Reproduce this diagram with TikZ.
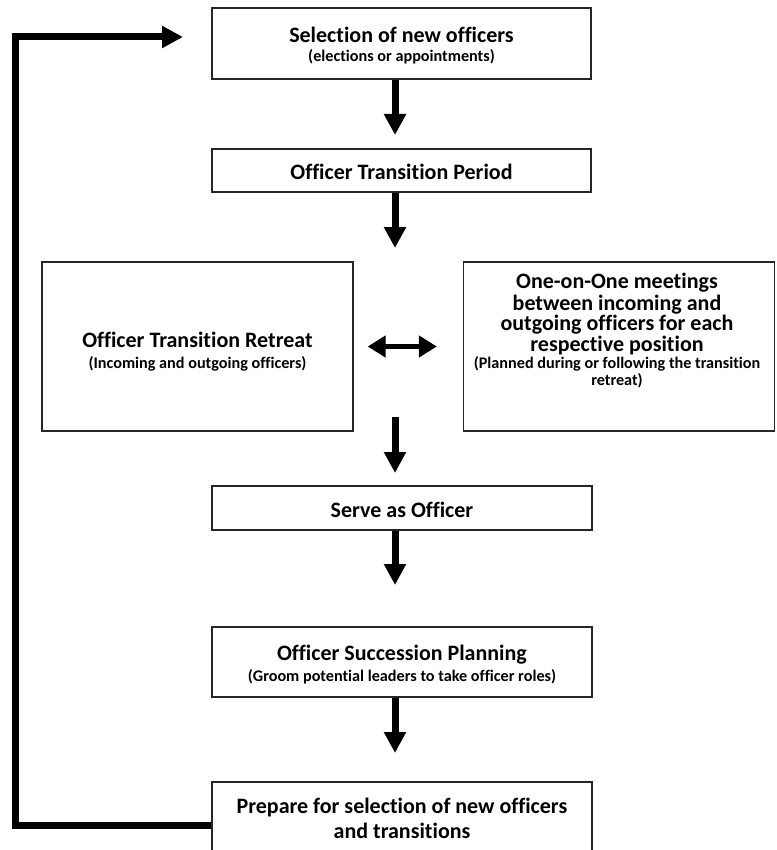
\documentclass[tikz,border=0pt]{standalone}
\usepackage{fontspec}
\setmainfont{Carlito}[Ligatures=NoCommon]
\usetikzlibrary{arrows.meta}
\begin{document}
\begin{tikzpicture}[x=1pt,y=-1pt,
  box/.style={draw=black!85, line width=1.3pt, inner sep=0pt},
  tt/.style={font=\bfseries\fontsize{22}{26}\selectfont, anchor=base, inner sep=0pt},
  st/.style={font=\bfseries\fontsize{16.2}{19}\selectfont, anchor=base, inner sep=0pt},
  flow/.style={line width=7pt, -{Triangle[width=21pt,length=21pt]}},
  dbl/.style={line width=5pt, {Triangle[width=21pt,length=18pt]}-{Triangle[width=21pt,length=18pt]}},
  fb/.style={line width=7pt, line join=miter, -{Triangle[width=21pt,length=21pt]}}
]
\useasboundingbox (0,0) rectangle (776,850);
\clip (0,0) rectangle (776,850);

% boxes
\node[box, minimum width=379pt, minimum height=71pt] (b1) at (401.5,43.5) {};
\node[box, minimum width=379pt, minimum height=43pt] (b2) at (401.5,170.5) {};
\node[box, minimum width=311pt, minimum height=169pt] (bl) at (197.5,346.5) {};
\node[box, minimum width=311pt, minimum height=169pt] (br) at (619,346.5) {};
\node[box, minimum width=380pt, minimum height=44pt] (bs) at (402,508) {};
\node[box, minimum width=380pt, minimum height=70pt] (bp) at (402,662) {};
\node[box, minimum width=380pt, minimum height=86pt] (bq) at (402,825) {};

% texts
\node[tt] (t1a) at (401.5,43) {Selection of new officers};
\node[st] (t1b) at (401.5,62) {(elections or appointments)};
\node[tt] (t2a) at (401.5,180) {Officer Transition Period};
\node[tt] (tla) at (197.5,347) {Officer Transition Retreat};
\node[st] (tlb) at (197.5,368) {(Incoming and outgoing officers)};
\node[tt] (tra) at (617,288) {One-on-One meetings};
\node[tt] (trb) at (617,310) {between incoming and};
\node[tt] (trc) at (617,330) {outgoing officers for each};
\node[tt] (trd) at (617,351) {respective position};
\node[st] (tre) at (617,368) {(Planned during or following the transition};
\node[st] (trf) at (617,385) {retreat)};
\node[tt] (tsa) at (402,517) {Serve as Officer};
\node[tt] (tpa) at (402,660) {Officer Succession Planning};
\node[st] (tpb) at (402,681) {(Groom potential leaders to take officer roles)};
\node[tt] (tqa) at (402,813) {Prepare for selection of new officers};
\node[tt] (tqb) at (402,838) {and transitions};

% flow arrows
\coordinate (a1) at (395,135);
\coordinate (a2) at (395,248);
\coordinate (a3s) at (395,417);
\coordinate (a3e) at (395,473);
\coordinate (a4) at (395,585);
\coordinate (a5) at (395,753);
\draw[flow] (b1.south -| a1) -- (a1);
\draw[flow] (b2.south -| a2) -- (a2);
\draw[flow] (a3s) -- (a3e);
\draw[flow] (bs.south -| a4) -- (a4);
\draw[flow] (bp.south -| a5) -- (a5);

% double arrow
\draw[dbl, shorten <=14pt, shorten >=26pt] (bl.east) -- (br.west);

% feedback loop
\coordinate (ftop) at (15,37);
\coordinate (ftip) at (183,37);
\draw[fb] (bq.west) -| (ftop) -- (ftip);
\end{tikzpicture}
\end{document}
